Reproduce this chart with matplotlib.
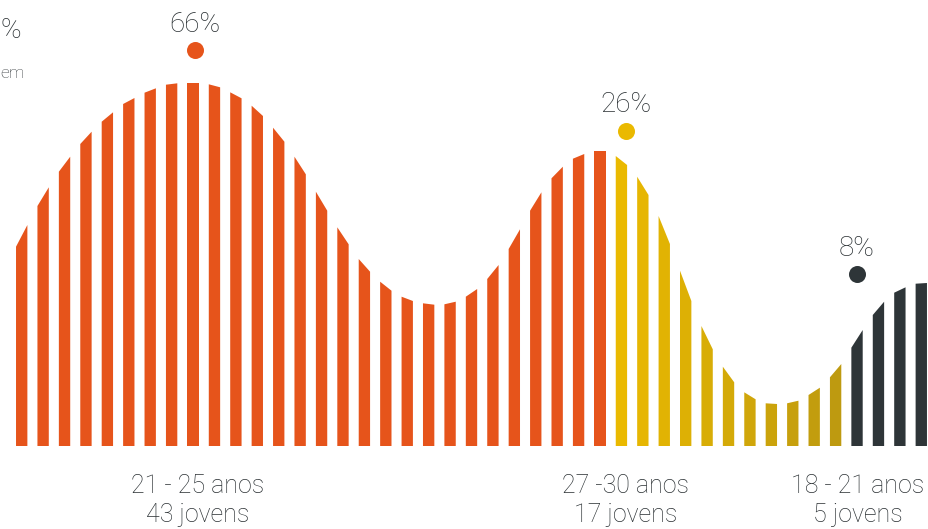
import matplotlib
matplotlib.use("Agg")
import matplotlib.pyplot as plt
from matplotlib.colors import to_rgb
import numpy as np

# ---- data -------------------------------------------------------------
group_names = ["21 - 25 anos", "27 -30 anos", "18 - 21 anos"]
group_counts = ["43 jovens", "17 jovens", "5 jovens"]
group_pct = ["66%", "26%", "8%"]
group_bars = [28, 11, 4]          # number of bars drawn in each group

# height of each bar's top at its left and right edge (arbitrary units)
top_left = [199.3, 240.0, 274.3, 302.0, 324.3, 342.0, 353.3, 361.3, 363.3, 361.7,
            353.7, 340.3, 318.3, 289.3, 254.3, 218.7, 187.0, 164.3, 149.3, 142.7,
            141.7, 149.3, 167.0, 197.0, 235.3, 267.7, 287.3, 294.7,
            290.0, 269.3, 230.0, 175.3, 120.0, 79.3, 53.7, 42.7, 42.7, 51.0, 68.7,
            98.3, 131.0, 153.3, 162.3]
top_right = [221.0, 258.7, 289.3, 314.3, 333.7, 348.0, 357.7, 362.7, 363.3, 358.7,
             347.7, 330.0, 304.3, 271.7, 235.3, 201.7, 174.3, 155.3, 145.0, 141.3,
             144.3, 157.0, 181.0, 216.7, 253.7, 279.3, 292.0, 294.7,
             281.0, 251.0, 202.0, 145.0, 96.7, 63.7, 46.7, 42.0, 45.3, 58.3, 82.0,
             116.0, 144.3, 158.7, 163.0]

marker_x = [8.1, 28.2, 39.0]
marker_y = [396, 315, 172]
label_x = [8.23, 28.2, 39.05]

# ---- style ------------------------------------------------------------
orange = "#E6541B"
yellow_start = "#EAB900"
yellow_end = "#BE9A10"
dark = "#2E3538"
text_col = "#2A3033"
bar_w = 0.53

fig = plt.figure(figsize=(9.29, 5.29), dpi=100)
ax = fig.add_axes([0, 0, 1, 1])
ax.set_xlim(-1.013, 42.36)
ax.set_ylim(-83, 446)
ax.axis("off")

# colours per bar
colors = []
colors += [orange] * group_bars[0]
ys, ye = np.array(to_rgb(yellow_start)), np.array(to_rgb(yellow_end))
n_y = group_bars[1]
for k in range(n_y):
    t = k / (n_y - 1)
    colors.append(tuple(ys * (1 - t) + ye * t))
colors += [dark] * group_bars[2]

for i, (l, r) in enumerate(zip(top_left, top_right)):
    x0, x1 = i - bar_w / 2, i + bar_w / 2
    ax.fill([x0, x1, x1, x0], [0, 0, r, l], color=colors[i], lw=0)

dot_colors = [orange, yellow_start, dark]
font = dict(family=["Roboto", "DejaVu Sans"])
for mx, my, c, p in zip(marker_x, marker_y, dot_colors, group_pct):
    ax.scatter([mx], [my], s=150, color=c, zorder=3, lw=0)
    ax.text(mx, my + 26, p, ha="center", va="center", fontsize=20,
            color=text_col, fontweight="light", **font)

for lx, n, c in zip(label_x, group_names, group_counts):
    ax.text(lx, -40, n, ha="center", va="center", fontsize=18,
            color=text_col, fontweight="light", **font)
    ax.text(lx, -69, c, ha="center", va="center", fontsize=18,
            color=text_col, fontweight="light", **font)

# clipped fragments at the top-left edge
fig.text(0.0, 1 - 30 / 529, "%", ha="left", va="center", fontsize=20,
         color=text_col, fontweight="light", **font)
fig.text(0.0, 1 - 74 / 529, "em", ha="left", va="center", fontsize=12.5,
         color="#3A3F42", fontweight="light", **font)

fig.savefig("out.png", dpi=100)
